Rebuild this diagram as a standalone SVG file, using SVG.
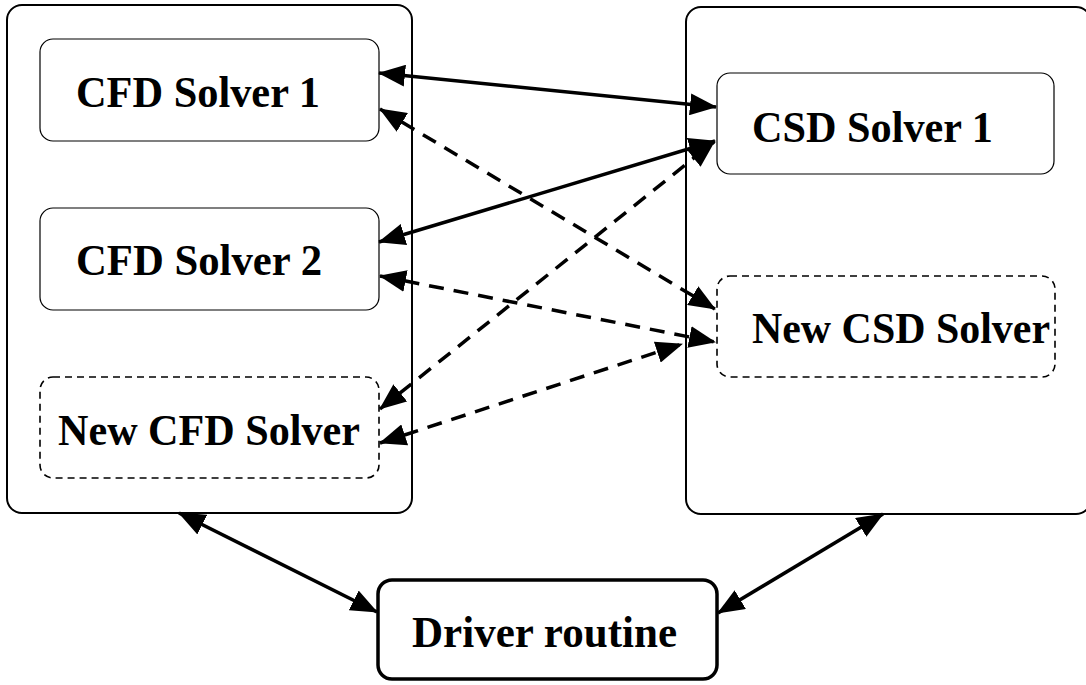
<svg xmlns="http://www.w3.org/2000/svg" width="1086" height="685" viewBox="0 0 1086 685">
<style>
.panel{fill:#fff;stroke:#000;stroke-width:2}
.node{fill:#fff;stroke:#000;stroke-width:1.2}
.dnode{fill:#fff;stroke:#000;stroke-width:1.6;stroke-dasharray:7 5}
.driver{fill:#fff;stroke:#000;stroke-width:3.5}
.lbl{font-family:"Liberation Serif","Times New Roman",serif;font-weight:bold;font-size:44px;fill:#000}
.c{stroke:#000;stroke-width:3.5;fill:none;marker-start:url(#ah);marker-end:url(#ah)}
.d{stroke-dasharray:15 10}
</style>
<defs>
<marker id="ah" viewBox="0 0 27 22" refX="26" refY="11" markerWidth="27" markerHeight="22" markerUnits="userSpaceOnUse" orient="auto-start-reverse">
<path d="M0,0 L27,11 L0,22 Z" fill="#000"/>
</marker>
</defs>
<g id="cfd-panel"><rect class="panel" x="7" y="5" width="405" height="508" rx="15"/></g>
<g id="csd-panel"><rect class="panel" x="686" y="7" width="405" height="507" rx="15"/></g>
<g id="cfd1"><rect class="node" x="40" y="39" width="339" height="102" rx="13"/><text class="lbl" x="76" y="107" textLength="244" lengthAdjust="spacingAndGlyphs">CFD Solver 1</text></g>
<g id="cfd2"><rect class="node" x="40" y="208" width="339" height="102" rx="13"/><text class="lbl" x="76" y="275" textLength="246" lengthAdjust="spacingAndGlyphs">CFD Solver 2</text></g>
<g id="newcfd"><rect class="dnode" x="40" y="377" width="339" height="101" rx="13"/><text class="lbl" x="58" y="445" textLength="302" lengthAdjust="spacingAndGlyphs">New CFD Solver</text></g>
<g id="csd1"><rect class="node" x="717" y="73" width="337" height="101" rx="13"/><text class="lbl" x="752" y="142" textLength="241" lengthAdjust="spacingAndGlyphs">CSD Solver 1</text></g>
<g id="newcsd"><rect class="dnode" x="717" y="276" width="338" height="101" rx="13"/><text class="lbl" x="752" y="343" textLength="298" lengthAdjust="spacingAndGlyphs">New CSD Solver</text></g>
<g id="driver"><rect class="driver" x="378" y="580" width="339" height="99" rx="14"/><text class="lbl" x="412" y="647" textLength="265" lengthAdjust="spacingAndGlyphs">Driver routine</text></g>
<g id="connectors">
<line class="c" x1="379" y1="73" x2="716" y2="107"/>
<line class="c" x1="379" y1="242" x2="715" y2="141"/>
<line class="c d" x1="380" y1="109" x2="715" y2="309"/>
<line class="c d" x1="380" y1="409" x2="714" y2="142"/>
<line class="c d" x1="380" y1="276" x2="715" y2="342"/>
<line class="c d" x1="380" y1="443" x2="682" y2="344"/>
<line class="c" x1="179" y1="513" x2="377" y2="612"/>
<line class="c" x1="883" y1="514" x2="718" y2="613"/>
</g>
</svg>
